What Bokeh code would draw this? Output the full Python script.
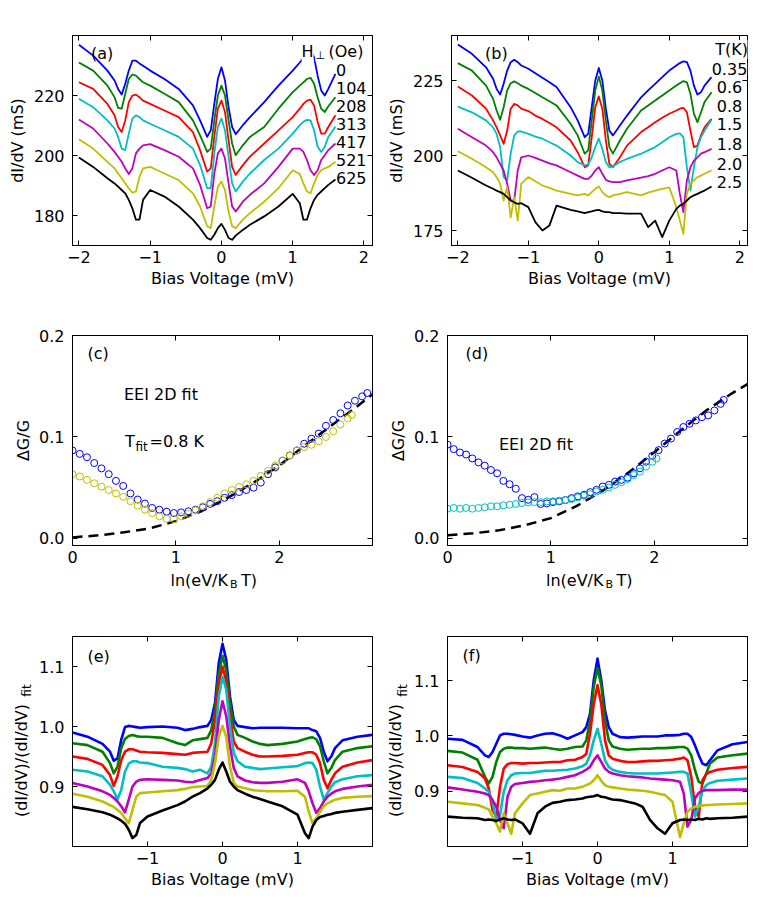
import math
from bokeh.plotting import figure
from bokeh.layouts import column, row
from bokeh.models import Label, LinearAxis, FixedTicker, Range1d
from bokeh.embed import file_html
from bokeh.resources import INLINE

FONT = "DejaVu Sans"
COLORS = ["#0000ff", "#008000", "#ff0000", "#00bfbf", "#bf00bf", "#bfbf00", "#000000"]

# ---------------- panel (a): dI/dV vs bias, different perpendicular fields ----------------
FIELDS = ["0", "104", "208", "313", "417", "521", "625"]
XA = [-2.0, -1.8, -1.6, -1.5, -1.45, -1.4, -1.35, -1.3, -1.25, -1.2, -1.15, -1.1, -1.0, -0.8, -0.6,
      -0.4, -0.3, -0.2, -0.15, -0.1, -0.05, 0.0, 0.05, 0.1, 0.15, 0.2, 0.3, 0.4, 0.6, 0.8, 1.0,
      1.1, 1.15, 1.2, 1.25, 1.3, 1.35, 1.4, 1.45, 1.5, 1.6]
A_0 = [236.9, 233.3, 228.3, 225.0, 222.2, 220.3, 223.9, 228.3, 231.6, 231.6, 230.7, 229.9, 228.3, 225.5, 222.2,
       216.7, 211.7, 206.2, 208.4, 217.2, 225.5, 229.4, 225.0, 216.1, 209.5, 207.1, 210.1, 212.8, 217.8, 223.3, 228.3,
       231.0, 232.7, 234.4, 235.1, 232.7, 226.6, 221.7, 220.0, 222.2, 227.2]
A_104 = [231.0, 228.3, 223.3, 219.4, 215.9, 215.6, 220.6, 225.5, 227.0, 226.6, 225.5, 224.4, 223.3, 220.6, 217.8,
         211.7, 206.7, 201.2, 202.3, 211.7, 220.0, 223.3, 220.0, 211.7, 204.0, 200.1, 203.4, 206.2, 209.5, 215.6, 221.1,
         223.3, 224.4, 225.5, 225.9, 223.9, 219.4, 215.6, 214.5, 216.4, 219.4]
A_208 = [224.4, 222.2, 217.2, 213.4, 209.5, 207.8, 211.7, 217.8, 220.0, 220.3, 219.4, 218.3, 217.2, 215.0, 212.8,
         207.8, 201.8, 194.6, 195.7, 206.2, 215.6, 218.3, 214.5, 205.1, 196.2, 193.5, 196.8, 199.6, 204.0, 208.4, 212.8,
         215.6, 217.2, 218.3, 218.6, 216.7, 211.2, 207.3, 207.3, 209.5, 213.4]
A_313 = [218.9, 216.1, 211.7, 209.0, 206.2, 202.3, 201.8, 207.3, 212.3, 213.4, 212.8, 211.7, 210.6, 208.4, 206.2,
         202.3, 196.8, 189.1, 189.1, 200.7, 209.5, 212.3, 208.4, 199.6, 190.7, 188.0, 191.3, 194.0, 198.5, 202.3, 207.3,
         210.1, 211.2, 211.9, 211.7, 208.4, 202.9, 201.2, 202.9, 206.2, 209.7]
A_417 = [212.0, 209.0, 204.0, 201.2, 199.6, 197.9, 195.7, 193.8, 195.7, 200.7, 202.3, 203.4, 203.8, 201.8, 199.6,
         195.7, 190.2, 182.4, 183.0, 194.0, 200.7, 202.3, 199.0, 190.7, 183.0, 181.3, 184.6, 186.9, 190.7, 196.2, 202.3,
         202.3, 201.2, 198.5, 195.1, 193.5, 195.1, 198.5, 200.1, 201.8, 204.0]
A_521 = [205.4, 202.3, 197.9, 195.7, 194.0, 192.4, 190.7, 189.1, 187.6, 188.0, 192.9, 195.7, 196.2, 194.0, 191.8,
         187.4, 183.0, 176.4, 175.8, 183.0, 189.6, 191.3, 188.5, 181.3, 176.4, 175.8, 178.6, 180.8, 184.6, 189.1, 195.1,
         193.8, 190.7, 188.0, 187.4, 190.7, 193.5, 195.1, 195.7, 196.2, 197.9]
A_625 = [199.3, 196.2, 192.4, 190.7, 189.6, 188.5, 187.4, 185.2, 182.4, 178.6, 178.6, 185.2, 188.5, 186.3, 183.0,
         178.6, 175.8, 172.5, 171.9, 173.6, 175.8, 177.2, 175.2, 172.5, 171.9, 173.3, 175.2, 176.9, 179.7, 183.0, 187.2,
         184.1, 178.6, 178.6, 182.4, 185.2, 186.9, 188.0, 189.1, 190.2, 192.0]

# ---------------- panel (b): dI/dV vs bias, different temperatures ----------------
TEMPS = ["0.35", "0.6", "0.8", "1.5", "1.8", "2.0", "2.5"]
XB = [-2.0, -1.8, -1.6, -1.5, -1.45, -1.4, -1.35, -1.3, -1.25, -1.2, -1.15, -1.1, -1.0, -0.9, -0.8, -0.7, -0.6,
      -0.4, -0.3, -0.2, -0.15, -0.1, -0.05, 0.0, 0.05, 0.1, 0.15, 0.2, 0.3, 0.4, 0.6, 0.7, 0.8, 0.9, 1.0,
      1.1, 1.15, 1.2, 1.25, 1.3, 1.35, 1.4, 1.45, 1.5, 1.6]
B_035 = [237.0, 233.9, 229.4, 225.6, 222.2, 220.3, 223.9, 228.3, 231.1, 231.9, 231.1, 230.0, 228.9, 227.4, 225.9, 224.4, 222.8,
         216.1, 211.7, 206.1, 207.2, 216.1, 225.0, 229.2, 225.0, 215.6, 208.3, 206.7, 210.0, 213.3, 219.4, 221.7, 223.9, 226.1, 228.3,
         230.0, 230.8, 231.4, 231.1, 228.3, 223.3, 220.3, 221.1, 223.3, 226.1]
B_06 = [230.8, 228.3, 223.3, 218.9, 215.0, 211.9, 216.1, 221.7, 224.1, 224.7, 224.1, 223.3, 222.2, 220.8, 219.4, 218.1, 216.7,
        210.6, 206.7, 200.6, 201.7, 211.7, 221.7, 226.3, 221.7, 211.7, 202.8, 200.6, 205.0, 208.9, 215.0, 216.7, 218.3, 220.0, 221.7,
        223.3, 224.1, 224.8, 224.4, 220.6, 213.9, 211.1, 214.4, 217.8, 221.1]
B_08 = [223.0, 220.0, 215.6, 211.7, 209.4, 206.7, 203.9, 208.3, 215.6, 217.2, 216.7, 215.6, 214.8, 213.3, 212.2, 210.8, 209.4,
        205.0, 201.1, 196.1, 196.7, 206.1, 216.1, 219.7, 215.6, 205.0, 197.2, 196.1, 199.4, 203.3, 207.8, 209.4, 211.1, 212.6, 213.9,
        215.0, 215.6, 215.9, 214.4, 208.3, 202.8, 203.3, 206.7, 209.4, 212.2]
B_15 = [216.3, 214.4, 211.7, 209.4, 207.2, 202.8, 192.8, 191.7, 200.6, 206.7, 208.0, 208.0, 207.2, 206.3, 205.6, 204.4, 203.3,
        200.0, 197.8, 196.7, 197.0, 199.4, 202.8, 205.6, 202.2, 197.8, 196.1, 196.3, 197.8, 198.9, 200.6, 201.7, 202.8, 204.4, 206.1,
        207.2, 207.4, 206.1, 196.1, 188.3, 196.1, 202.8, 206.1, 208.3, 211.9]
B_18 = [208.9, 206.1, 203.3, 201.1, 199.4, 197.2, 195.0, 190.6, 185.0, 185.0, 195.0, 199.4, 200.0, 199.2, 198.3, 197.4, 196.7,
        194.4, 193.3, 192.2, 192.2, 193.3, 195.0, 196.1, 193.9, 191.9, 191.4, 191.1, 191.1, 191.7, 192.6, 193.1, 193.9, 195.0, 196.1,
        195.0, 187.2, 181.1, 191.7, 196.1, 198.3, 199.4, 200.6, 201.1, 202.2]
B_20 = [201.4, 198.9, 196.1, 194.4, 192.8, 190.6, 185.0, 189.4, 179.4, 186.1, 178.3, 190.6, 192.8, 191.4, 190.0, 189.2, 188.3,
        187.2, 186.7, 187.2, 186.7, 187.8, 188.9, 189.7, 187.8, 186.7, 186.1, 186.7, 187.2, 187.8, 186.7, 187.6, 188.3, 188.9, 189.4,
        182.8, 178.3, 173.9, 187.2, 190.6, 191.7, 192.8, 193.3, 193.9, 195.0]
B_25 = [195.0, 192.6, 190.0, 188.9, 188.3, 187.8, 187.2, 186.1, 185.0, 184.4, 183.9, 184.1, 182.8, 177.8, 175.0, 176.7, 183.3,
        181.9, 181.4, 180.8, 181.1, 181.4, 181.7, 181.9, 181.4, 181.1, 181.1, 180.8, 180.8, 180.6, 180.6, 176.1, 178.3, 172.8, 178.3,
        182.2, 183.3, 183.9, 185.0, 186.1, 186.7, 187.2, 187.8, 188.3, 189.7]

# ---------------- panel (c) and (d): dG/G vs ln(eV/kB T) ----------------
C_BLUE_X = [0.0, 0.07, 0.14, 0.21, 0.28, 0.35, 0.42, 0.49, 0.56, 0.63, 0.70, 0.77, 0.84, 0.91, 0.98, 1.05, 1.12,
            1.19, 1.26, 1.33, 1.40, 1.47, 1.54, 1.61, 1.68, 1.75, 1.82, 1.89, 1.96, 2.03, 2.10, 2.17, 2.24,
            2.31, 2.38, 2.45, 2.52, 2.59, 2.66, 2.73, 2.80, 2.85]
C_BLUE_Y = [0.0867, 0.0833, 0.080, 0.0743, 0.069, 0.0633, 0.0567, 0.0517, 0.0443, 0.0383, 0.0343, 0.030, 0.0283,
            0.0263, 0.025, 0.0257, 0.0267, 0.0283, 0.0307, 0.034, 0.0367, 0.040, 0.0427, 0.0457, 0.0477, 0.050,
            0.055, 0.0633, 0.070, 0.0767, 0.0817, 0.0867, 0.0933, 0.0983, 0.1033, 0.111, 0.1167, 0.1233, 0.131,
            0.1357, 0.140, 0.1433]
C_YEL_X = [0.0, 0.07, 0.14, 0.21, 0.28, 0.35, 0.42, 0.49, 0.56, 0.63, 0.70, 0.77, 0.84, 0.91, 0.98, 1.05, 1.12,
           1.19, 1.26, 1.33, 1.40, 1.47, 1.54, 1.61, 1.68, 1.75, 1.82, 1.89, 1.96, 2.03, 2.10, 2.17, 2.24,
           2.31, 2.38, 2.45, 2.52, 2.59, 2.66, 2.70]
C_YEL_Y = [0.0633, 0.061, 0.0577, 0.0543, 0.051, 0.0477, 0.0443, 0.041, 0.0367, 0.0323, 0.0283, 0.025, 0.0217,
           0.0193, 0.019, 0.0217, 0.0243, 0.0277, 0.0317, 0.0357, 0.040, 0.0443, 0.0477, 0.0507, 0.0533, 0.0567,
           0.0617, 0.0667, 0.0717, 0.0767, 0.0817, 0.0867, 0.090, 0.0923, 0.0957, 0.100, 0.1057, 0.1123, 0.1183,
           0.1217]
D_BLUE_X = [0.0, 0.06, 0.12, 0.18, 0.24, 0.30, 0.36, 0.42, 0.48, 0.54, 0.60, 0.66, 0.72, 0.78, 0.84, 0.90, 0.96,
            1.02, 1.08, 1.14, 1.20, 1.26, 1.32, 1.38, 1.44, 1.50, 1.56, 1.62, 1.68, 1.74, 1.80, 1.86, 1.92,
            1.98, 2.04, 2.10, 2.16, 2.22, 2.28, 2.34, 2.40, 2.46, 2.52, 2.58, 2.64, 2.67]
D_BLUE_Y = [0.0925, 0.088, 0.0847, 0.0827, 0.0788, 0.0749, 0.0717, 0.0674, 0.0642, 0.0567, 0.0534, 0.0489, 0.0397,
            0.0381, 0.0407, 0.0339, 0.0345, 0.0358, 0.0365, 0.0378, 0.0397, 0.0414, 0.043, 0.0456, 0.0479, 0.0511,
            0.0528, 0.056, 0.0577, 0.0599, 0.0642, 0.0691, 0.0756, 0.0814, 0.087, 0.0935, 0.0984, 0.1049, 0.1098,
            0.113, 0.1163, 0.1195, 0.1212, 0.1261, 0.1326, 0.1365]
D_CYAN_X = [0.0, 0.06, 0.12, 0.18, 0.24, 0.30, 0.36, 0.42, 0.48, 0.54, 0.60, 0.66, 0.72, 0.78, 0.84, 0.90, 0.96,
            1.02, 1.08, 1.14, 1.20, 1.26, 1.32, 1.38, 1.44, 1.50, 1.56, 1.62, 1.68, 1.74, 1.80, 1.86, 1.92,
            1.98, 2.02]
D_CYAN_Y = [0.0293, 0.030, 0.0293, 0.030, 0.0293, 0.030, 0.0306, 0.0316, 0.0316, 0.0326, 0.0332, 0.0339, 0.0349,
            0.0355, 0.0358, 0.0358, 0.0365, 0.0365, 0.0371, 0.0378, 0.0388, 0.0404, 0.042, 0.0436, 0.0463, 0.0479,
            0.0502, 0.0528, 0.0554, 0.0586, 0.0625, 0.0658, 0.0707, 0.0756, 0.0788]
FIT_X = [0.0, 0.25, 0.5, 0.75, 1.0, 1.25, 1.5, 1.75, 2.0, 2.25, 2.5, 2.75, 2.9]
FIT_C = [0.001, 0.003, 0.006, 0.010, 0.017, 0.027, 0.040, 0.055, 0.072, 0.092, 0.111, 0.130, 0.142]
FIT_D = [0.003, 0.005, 0.008, 0.013, 0.020, 0.032, 0.047, 0.065, 0.085, 0.106, 0.126, 0.143, 0.152]

# ---------------- panel (e): normalised dI/dV, fields ----------------
XE = [-2.0, -1.8, -1.6, -1.5, -1.45, -1.4, -1.35, -1.3, -1.25, -1.2, -1.15, -1.1,
      -1.0, -0.8, -0.6, -0.5, -0.4, -0.3, -0.2, -0.15, -0.1, -0.05, 0.0,
      0.05, 0.1, 0.15, 0.2, 0.3, 0.4, 0.5, 0.6, 0.8, 1.0,
      1.1, 1.15, 1.2, 1.25, 1.3, 1.35, 1.4, 1.45, 1.5, 1.6, 1.8, 2.0]
E_0 = [0.990, 0.983, 0.971, 0.958, 0.943, 0.947, 0.978, 0.999, 1.001, 1.000, 0.999, 0.998,
       0.999, 1.000, 0.998, 0.994, 0.996, 0.999, 1.001, 1.011, 1.039, 1.106, 1.138,
       1.111, 1.050, 1.011, 1.001, 0.999, 0.997, 0.998, 0.998, 0.998, 0.997,
       0.997, 0.997, 0.994, 0.992, 0.981, 0.958, 0.942, 0.950, 0.964, 0.977, 0.983, 0.986]
E_104 = [0.972, 0.969, 0.958, 0.939, 0.922, 0.933, 0.964, 0.979, 0.984, 0.986, 0.984, 0.983,
         0.983, 0.981, 0.972, 0.969, 0.977, 0.979, 0.981, 0.994, 1.028, 1.089, 1.118,
         1.094, 1.039, 1.000, 0.986, 0.981, 0.975, 0.971, 0.969, 0.971, 0.975,
         0.979, 0.981, 0.982, 0.979, 0.967, 0.942, 0.922, 0.931, 0.944, 0.958, 0.964, 0.967]
E_208 = [0.950, 0.946, 0.936, 0.919, 0.901, 0.917, 0.944, 0.958, 0.962, 0.962, 0.960, 0.958,
         0.957, 0.956, 0.954, 0.953, 0.956, 0.957, 0.958, 0.972, 1.011, 1.072, 1.100,
         1.075, 1.017, 0.975, 0.964, 0.958, 0.953, 0.950, 0.950, 0.951, 0.953,
         0.956, 0.957, 0.957, 0.953, 0.939, 0.911, 0.897, 0.911, 0.922, 0.933, 0.940, 0.944]
E_313 = [0.928, 0.925, 0.917, 0.903, 0.892, 0.879, 0.894, 0.925, 0.938, 0.942, 0.942, 0.940,
         0.939, 0.933, 0.931, 0.929, 0.925, 0.928, 0.922, 0.933, 0.972, 1.050, 1.083,
         1.061, 1.000, 0.956, 0.942, 0.933, 0.931, 0.929, 0.930, 0.932, 0.934,
         0.939, 0.940, 0.939, 0.928, 0.900, 0.878, 0.889, 0.900, 0.907, 0.912, 0.917, 0.919]
E_417 = [0.906, 0.900, 0.892, 0.886, 0.881, 0.875, 0.867, 0.857, 0.878, 0.900, 0.908, 0.911,
         0.912, 0.911, 0.910, 0.908, 0.907, 0.911, 0.914, 0.922, 0.950, 1.011, 1.042,
         1.017, 0.967, 0.931, 0.917, 0.910, 0.907, 0.906, 0.906, 0.908, 0.912,
         0.906, 0.892, 0.872, 0.856, 0.864, 0.875, 0.883, 0.888, 0.892, 0.896, 0.900, 0.903]
E_521 = [0.888, 0.883, 0.875, 0.869, 0.866, 0.861, 0.856, 0.847, 0.839, 0.861, 0.883, 0.889,
         0.890, 0.892, 0.894, 0.896, 0.899, 0.900, 0.901, 0.911, 0.939, 0.983, 1.001,
         0.983, 0.933, 0.906, 0.900, 0.897, 0.894, 0.893, 0.892, 0.892, 0.893,
         0.883, 0.858, 0.839, 0.847, 0.858, 0.867, 0.872, 0.875, 0.878, 0.881, 0.883, 0.884]
E_625 = [0.866, 0.862, 0.857, 0.853, 0.850, 0.847, 0.843, 0.838, 0.828, 0.814, 0.819, 0.839,
         0.850, 0.860, 0.869, 0.875, 0.883, 0.889, 0.897, 0.903, 0.911, 0.928, 0.940,
         0.925, 0.908, 0.900, 0.894, 0.888, 0.883, 0.879, 0.875, 0.867, 0.853,
         0.822, 0.814, 0.833, 0.844, 0.849, 0.851, 0.853, 0.854, 0.856, 0.858, 0.861, 0.864]

# ---------------- panel (f): normalised dI/dV, temperatures ----------------
XF = [-2.0, -1.8, -1.6, -1.5, -1.45, -1.4, -1.35, -1.3, -1.25, -1.2, -1.15, -1.1,
      -1.0, -0.9, -0.8, -0.7, -0.6, -0.5, -0.4, -0.3, -0.2, -0.15, -0.1, -0.05, 0.0,
      0.05, 0.1, 0.15, 0.2, 0.3, 0.4, 0.5, 0.6, 0.7, 0.8, 0.9, 1.0,
      1.1, 1.15, 1.2, 1.25, 1.3, 1.35, 1.4, 1.45, 1.5, 1.6, 1.8, 2.0]
F_035 = [0.995, 0.993, 0.980, 0.965, 0.962, 0.971, 0.986, 1.001, 1.004, 1.004, 1.003, 1.002,
         0.999, 0.997, 1.001, 1.004, 1.005, 1.001, 0.995, 1.001, 1.007, 1.016, 1.040, 1.101, 1.140,
         1.101, 1.046, 1.016, 1.004, 0.998, 0.997, 0.998, 0.999, 0.999, 0.999, 1.001, 1.001,
         1.002, 1.004, 1.004, 0.998, 0.983, 0.965, 0.950, 0.947, 0.956, 0.974, 0.985, 0.989]
F_06 = [0.973, 0.970, 0.957, 0.926, 0.914, 0.926, 0.953, 0.971, 0.977, 0.979, 0.979, 0.978,
        0.978, 0.977, 0.978, 0.979, 0.977, 0.975, 0.977, 0.980, 0.981, 0.992, 1.028, 1.089, 1.123,
        1.092, 1.028, 0.992, 0.981, 0.977, 0.975, 0.976, 0.977, 0.977, 0.978, 0.978, 0.979,
        0.980, 0.980, 0.977, 0.965, 0.938, 0.917, 0.914, 0.932, 0.950, 0.961, 0.965, 0.968]
F_08 = [0.947, 0.944, 0.935, 0.923, 0.905, 0.866, 0.854, 0.908, 0.941, 0.949, 0.951, 0.951,
        0.950, 0.951, 0.951, 0.952, 0.953, 0.953, 0.956, 0.957, 0.962, 0.968, 1.004, 1.058, 1.092,
        1.058, 0.992, 0.965, 0.959, 0.955, 0.953, 0.953, 0.954, 0.955, 0.955, 0.956, 0.957,
        0.959, 0.961, 0.956, 0.926, 0.872, 0.854, 0.920, 0.931, 0.935, 0.939, 0.942, 0.944]
F_15 = [0.926, 0.924, 0.915, 0.905, 0.899, 0.881, 0.848, 0.857, 0.899, 0.920, 0.929, 0.932,
        0.933, 0.933, 0.935, 0.937, 0.937, 0.938, 0.939, 0.941, 0.945, 0.950, 0.965, 0.992, 1.013,
        0.986, 0.956, 0.944, 0.939, 0.935, 0.933, 0.932, 0.932, 0.932, 0.932, 0.933, 0.934,
        0.935, 0.935, 0.932, 0.896, 0.854, 0.872, 0.902, 0.911, 0.915, 0.919, 0.921, 0.923]
F_18 = [0.907, 0.903, 0.899, 0.896, 0.893, 0.884, 0.872, 0.848, 0.833, 0.890, 0.908, 0.913,
        0.915, 0.917, 0.918, 0.920, 0.921, 0.923, 0.926, 0.929, 0.935, 0.939, 0.944, 0.956, 0.965,
        0.953, 0.941, 0.935, 0.932, 0.929, 0.927, 0.926, 0.925, 0.923, 0.922, 0.921, 0.920,
        0.917, 0.896, 0.836, 0.848, 0.887, 0.897, 0.901, 0.902, 0.902, 0.902, 0.903, 0.903]
F_20 = [0.881, 0.878, 0.875, 0.870, 0.867, 0.854, 0.842, 0.827, 0.860, 0.842, 0.823, 0.860,
        0.878, 0.893, 0.896, 0.899, 0.902, 0.901, 0.905, 0.905, 0.908, 0.911, 0.914, 0.920, 0.929,
        0.919, 0.911, 0.908, 0.907, 0.905, 0.903, 0.902, 0.901, 0.899, 0.896, 0.893, 0.881,
        0.817, 0.842, 0.863, 0.869, 0.872, 0.873, 0.874, 0.875, 0.875, 0.876, 0.877, 0.878]
F_25 = [0.854, 0.852, 0.851, 0.848, 0.849, 0.848, 0.846, 0.849, 0.851, 0.849, 0.848, 0.849,
        0.842, 0.823, 0.860, 0.872, 0.879, 0.881, 0.884, 0.885, 0.887, 0.889, 0.890, 0.891, 0.893,
        0.890, 0.889, 0.887, 0.885, 0.884, 0.881, 0.878, 0.872, 0.848, 0.833, 0.823, 0.842,
        0.848, 0.849, 0.848, 0.849, 0.848, 0.850, 0.849, 0.851, 0.850, 0.851, 0.852, 0.854]

MINUS = "\u2212"


def make_fig(xr, yr, xt, yt, left, right, top, bottom, xover=None, yover=None,
             xlabel=None, ylabel=None, ylab_standoff=4):
    p = figure(width=left + 300 + right, height=top + 210 + bottom,
               x_range=Range1d(*xr), y_range=Range1d(*yr),
               output_backend="svg", toolbar_location=None,
               min_border_left=left, min_border_right=right,
               min_border_top=top, min_border_bottom=bottom)
    p.grid.visible = False
    p.outline_line_color = "black"
    p.outline_line_width = 1
    p.outline_line_alpha = 1.0
    p.background_fill_color = "white"
    p.border_fill_color = "white"
    p.xaxis.ticker = FixedTicker(ticks=xt)
    p.yaxis.ticker = FixedTicker(ticks=yt)
    for ax in (p.xaxis[0], p.yaxis[0]):
        ax.major_tick_in = 5
        ax.major_tick_out = 0
        ax.minor_tick_in = 0
        ax.minor_tick_out = 0
        ax.major_label_text_font = FONT
        ax.major_label_text_font_size = "16px"
        ax.major_label_text_color = "black"
        ax.axis_line_color = "black"
        ax.major_tick_line_color = "black"
        ax.axis_label_text_font = FONT
        ax.axis_label_text_font_size = "16px"
        ax.axis_label_text_font_style = "normal"
        ax.axis_label_text_color = "black"
    p.xaxis.major_label_standoff = 5
    p.yaxis.major_label_standoff = 8
    if xlabel:
        p.xaxis.axis_label = xlabel
        p.xaxis.axis_label_standoff = 3
    if ylabel:
        p.yaxis.axis_label = ylabel
        p.yaxis.axis_label_standoff = ylab_standoff
    if xover:
        p.xaxis.major_label_overrides = xover
    if yover:
        p.yaxis.major_label_overrides = yover
    for ticks, side in ((xt, "above"), (yt, "right")):
        ax = LinearAxis(ticker=FixedTicker(ticks=ticks), major_tick_in=5, major_tick_out=0,
                        minor_tick_in=0, minor_tick_out=0, major_label_text_font_size="0px",
                        major_label_standoff=0, axis_line_color="black",
                        major_label_overrides={t: "" for t in ticks})
        p.add_layout(ax, side)
    return p


def strip(w, h, top=0, bottom=0):
    s = figure(width=w, height=h, x_range=Range1d(0, 1), y_range=Range1d(0, 1),
               output_backend="svg", toolbar_location=None, min_border=0,
               min_border_top=top, min_border_bottom=bottom,
               x_axis_type=None, y_axis_type=None)
    s.outline_line_color = None
    s.background_fill_color = "white"
    s.border_fill_color = "white"
    return s


def lab(p, x, y, text, size=16, align="left", baseline="alphabetic", angle=0.0, bg=None):
    l = Label(x=x, y=y, x_units="screen", y_units="screen", text=text, text_font=FONT,
              text_font_size=f"{size}px", text_align=align, text_baseline=baseline,
              angle=angle, text_color="black")
    if bg:
        l.background_fill_color = bg
    p.add_layout(l)


XOV2 = {-2: MINUS + "2", -1: MINUS + "1"}
XOV1 = {-1: MINUS + "1"}
VERT = math.pi / 2
BIAS = "Bias Voltage (mV)"

# ---- (a)
pa = make_fig((-2.09, 2.12), (170, 240), [-2, -1, 0, 1, 2], [180, 200, 220], 72, 11, 35, 63,
              XOV2, None, BIAS, "dI/dV (mS)", 4)
for ys, c in zip([A_0, A_104, A_208, A_313, A_417, A_521, A_625], COLORS):
    pa.line(XA, ys, line_color=c, line_width=1.8, line_join="round")
lab(pa, 18.5, 192.5, "(a)")
lab(pa, 229, 194, "H", baseline="middle", bg="white")
lab(pa, 243, 190, "\u22a5", size=11, baseline="middle", bg="white")
lab(pa, 256, 194, "(Oe)", baseline="middle", bg="white")
for i, t in enumerate(FIELDS):
    lab(pa, 263.5, 176 - 18 * i, t, baseline="middle", bg="white")

# ---- (b)
pb = make_fig((-2.09, 2.11), (170, 240), [-2, -1, 0, 1, 2], [175, 200, 225], 64, 15, 35, 63,
              XOV2, None, BIAS, "dI/dV (mS)", 4)
for ys, c in zip([B_035, B_06, B_08, B_15, B_18, B_20, B_25], COLORS):
    pb.line(XB, ys, line_color=c, line_width=1.8, line_join="round")
lab(pb, 33.5, 192.5, "(b)")
lab(pb, 280, 196, "T(K)", align="center", baseline="middle", bg="white")
for t, yy in zip(TEMPS, [176.7, 158.3, 140, 121.7, 101.7, 81.7, 63.3]):
    lab(pb, 278, yy, t, align="center", baseline="middle", bg="white")

# ---- (c)
pc = make_fig((0, 2.9), (-0.007, 0.2), [0, 1, 2], [0.0, 0.1, 0.2], 72, 11, 27, 24,
              None, {0: "0.0"}, None, "\u0394G/G", 3)
pc.line(FIT_X, FIT_C, line_color="black", line_width=2.5, line_dash="10 6")
pc.scatter(C_BLUE_X, C_BLUE_Y, size=7, marker="circle", fill_color=None, line_color=COLORS[0], line_width=1)
pc.scatter(C_YEL_X, C_YEL_Y, size=7, marker="circle", fill_color=None, line_color=COLORS[5], line_width=1)
lab(pc, 15, 192, "(c)")
lab(pc, 51.5, 151, "EEI 2D fit")
lab(pc, 52.5, 104, "T")
lab(pc, 63, 99, "fit", size=12)
lab(pc, 77, 104, "=0.8 K")

# ---- (d)
pd_ = make_fig((0, 2.9), (-0.007, 0.2), [0, 1, 2], [0.0, 0.1, 0.2], 64, 15, 27, 24,
               None, {0: "0.0"}, None, "\u0394G/G", 3)
pd_.line(FIT_X, FIT_D, line_color="black", line_width=2.5, line_dash="10 6")
pd_.scatter(D_BLUE_X, D_BLUE_Y, size=7, marker="circle", fill_color=None, line_color=COLORS[0], line_width=1)
pd_.scatter(D_CYAN_X, D_CYAN_Y, size=7, marker="circle", fill_color=None, line_color=COLORS[3], line_width=1)
lab(pd_, 18, 192, "(d)")
lab(pd_, 51.5, 101, "EEI 2D fit")

# strip below (c)/(d) carrying the x labels with subscripts
sx = strip(762, 39)
for x0 in (170, 545.5):
    lab(sx, x0, 28.5, "ln(eV/K")
    lab(sx, x0 + 59.5, 24.5, "B", size=11)
    lab(sx, x0 + 70.5, 28.5, "T)")

# ---- (e)
pe = make_fig((-2, 2), (0.8, 1.15), [-1, 0, 1], [0.9, 1.0, 1.1], 37, 11, 28, 50,
              XOV1, {1: "1.0"}, BIAS, None)
for ys, c in zip([E_0, E_104, E_208, E_313, E_417, E_521, E_625], COLORS):
    pe.line(XE, ys, line_color=c, line_width=2.6, line_join="round")
lab(pe, 15, 190.5, "(e)")

# ---- (f)
pf = make_fig((-2, 2), (0.8, 1.18), [-1, 0, 1], [0.9, 1.0, 1.1], 37, 15, 28, 50,
              XOV1, {1: "1.0"}, BIAS, None)
for ys, c in zip([F_035, F_06, F_08, F_15, F_18, F_20, F_25], COLORS):
    pf.line(XF, ys, line_color=c, line_width=2.6, line_join="round")
lab(pf, 15, 191.5, "(f)")

# strips left of (e)/(f) carrying the y labels with subscripts (frames aligned with the panels)
se = strip(35, 288, 28, 50)
lab(se, 21, 86, "(dI/dV)/(dI/dV)", align="center", baseline="middle", angle=VERT)
lab(se, 26, 156, "fit", size=12, align="center", baseline="middle", angle=VERT)
sf = strip(27, 288, 28, 50)
lab(sf, 12, 86, "(dI/dV)/(dI/dV)", align="center", baseline="middle", angle=VERT)
lab(sf, 19, 156, "fit", size=12, align="center", baseline="middle", angle=VERT)

layout = column(row(pa, pb), row(pc, pd_), sx, row(se, pe, sf, pf))
open("out.html", "w").write(file_html(layout, INLINE))
